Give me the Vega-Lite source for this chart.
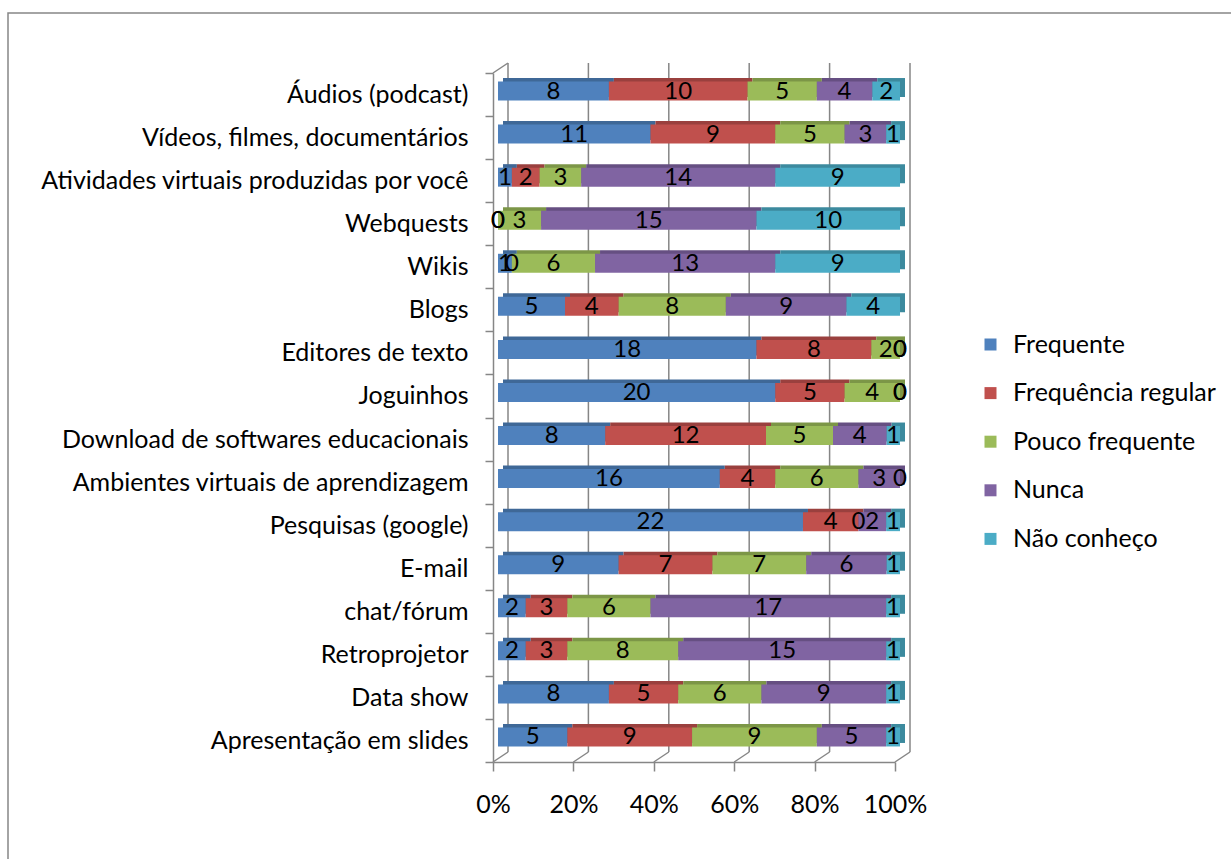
{
  "$schema": "https://vega.github.io/schema/vega-lite/v6.json",
  "width": 1226,
  "height": 850,
  "autosize": {"type": "none"},
  "padding": {"left": 8, "top": 13, "right": -3, "bottom": -4},
  "background": "white",
  "config": {
    "view": {"stroke": "#868686", "strokeWidth": 1.5},
    "font": "Lato",
    "axis": {"labelFont": "Lato", "labelColor": "#000000", "labelFontSize": 25, "domainColor": "#868686", "tickColor": "#868686", "domainWidth": 1.5, "tickWidth": 1.5, "title": null, "grid": false},
    "legend": {"labelFont": "Lato", "labelColor": "#000000", "labelFontSize": 25, "labelLimit": 400}
  },
  "datasets": {
    "respostas": [
      {"item": "Áudios (podcast)", "cat": "Frequente", "o": 1, "n": 8},
      {"item": "Áudios (podcast)", "cat": "Frequência regular", "o": 2, "n": 10},
      {"item": "Áudios (podcast)", "cat": "Pouco frequente", "o": 3, "n": 5},
      {"item": "Áudios (podcast)", "cat": "Nunca", "o": 4, "n": 4},
      {"item": "Áudios (podcast)", "cat": "Não conheço", "o": 5, "n": 2},
      {"item": "Vídeos, filmes, documentários", "cat": "Frequente", "o": 1, "n": 11},
      {"item": "Vídeos, filmes, documentários", "cat": "Frequência regular", "o": 2, "n": 9},
      {"item": "Vídeos, filmes, documentários", "cat": "Pouco frequente", "o": 3, "n": 5},
      {"item": "Vídeos, filmes, documentários", "cat": "Nunca", "o": 4, "n": 3},
      {"item": "Vídeos, filmes, documentários", "cat": "Não conheço", "o": 5, "n": 1},
      {"item": "Atividades virtuais produzidas por você", "cat": "Frequente", "o": 1, "n": 1},
      {"item": "Atividades virtuais produzidas por você", "cat": "Frequência regular", "o": 2, "n": 2},
      {"item": "Atividades virtuais produzidas por você", "cat": "Pouco frequente", "o": 3, "n": 3},
      {"item": "Atividades virtuais produzidas por você", "cat": "Nunca", "o": 4, "n": 14},
      {"item": "Atividades virtuais produzidas por você", "cat": "Não conheço", "o": 5, "n": 9},
      {"item": "Webquests", "cat": "Frequente", "o": 1, "n": 0},
      {"item": "Webquests", "cat": "Frequência regular", "o": 2, "n": 0},
      {"item": "Webquests", "cat": "Pouco frequente", "o": 3, "n": 3},
      {"item": "Webquests", "cat": "Nunca", "o": 4, "n": 15},
      {"item": "Webquests", "cat": "Não conheço", "o": 5, "n": 10},
      {"item": "Wikis", "cat": "Frequente", "o": 1, "n": 1},
      {"item": "Wikis", "cat": "Frequência regular", "o": 2, "n": 0},
      {"item": "Wikis", "cat": "Pouco frequente", "o": 3, "n": 6},
      {"item": "Wikis", "cat": "Nunca", "o": 4, "n": 13},
      {"item": "Wikis", "cat": "Não conheço", "o": 5, "n": 9},
      {"item": "Blogs", "cat": "Frequente", "o": 1, "n": 5},
      {"item": "Blogs", "cat": "Frequência regular", "o": 2, "n": 4},
      {"item": "Blogs", "cat": "Pouco frequente", "o": 3, "n": 8},
      {"item": "Blogs", "cat": "Nunca", "o": 4, "n": 9},
      {"item": "Blogs", "cat": "Não conheço", "o": 5, "n": 4},
      {"item": "Editores de texto", "cat": "Frequente", "o": 1, "n": 18},
      {"item": "Editores de texto", "cat": "Frequência regular", "o": 2, "n": 8},
      {"item": "Editores de texto", "cat": "Pouco frequente", "o": 3, "n": 2},
      {"item": "Editores de texto", "cat": "Nunca", "o": 4, "n": 0},
      {"item": "Editores de texto", "cat": "Não conheço", "o": 5, "n": 0},
      {"item": "Joguinhos", "cat": "Frequente", "o": 1, "n": 20},
      {"item": "Joguinhos", "cat": "Frequência regular", "o": 2, "n": 5},
      {"item": "Joguinhos", "cat": "Pouco frequente", "o": 3, "n": 4},
      {"item": "Joguinhos", "cat": "Nunca", "o": 4, "n": 0},
      {"item": "Joguinhos", "cat": "Não conheço", "o": 5, "n": 0},
      {"item": "Download de softwares educacionais", "cat": "Frequente", "o": 1, "n": 8},
      {"item": "Download de softwares educacionais", "cat": "Frequência regular", "o": 2, "n": 12},
      {"item": "Download de softwares educacionais", "cat": "Pouco frequente", "o": 3, "n": 5},
      {"item": "Download de softwares educacionais", "cat": "Nunca", "o": 4, "n": 4},
      {"item": "Download de softwares educacionais", "cat": "Não conheço", "o": 5, "n": 1},
      {"item": "Ambientes virtuais de aprendizagem", "cat": "Frequente", "o": 1, "n": 16},
      {"item": "Ambientes virtuais de aprendizagem", "cat": "Frequência regular", "o": 2, "n": 4},
      {"item": "Ambientes virtuais de aprendizagem", "cat": "Pouco frequente", "o": 3, "n": 6},
      {"item": "Ambientes virtuais de aprendizagem", "cat": "Nunca", "o": 4, "n": 3},
      {"item": "Ambientes virtuais de aprendizagem", "cat": "Não conheço", "o": 5, "n": 0},
      {"item": "Pesquisas (google)", "cat": "Frequente", "o": 1, "n": 22},
      {"item": "Pesquisas (google)", "cat": "Frequência regular", "o": 2, "n": 4},
      {"item": "Pesquisas (google)", "cat": "Pouco frequente", "o": 3, "n": 0},
      {"item": "Pesquisas (google)", "cat": "Nunca", "o": 4, "n": 2},
      {"item": "Pesquisas (google)", "cat": "Não conheço", "o": 5, "n": 1},
      {"item": "E-mail", "cat": "Frequente", "o": 1, "n": 9},
      {"item": "E-mail", "cat": "Frequência regular", "o": 2, "n": 7},
      {"item": "E-mail", "cat": "Pouco frequente", "o": 3, "n": 7},
      {"item": "E-mail", "cat": "Nunca", "o": 4, "n": 6},
      {"item": "E-mail", "cat": "Não conheço", "o": 5, "n": 1},
      {"item": "chat/fórum", "cat": "Frequente", "o": 1, "n": 2},
      {"item": "chat/fórum", "cat": "Frequência regular", "o": 2, "n": 3},
      {"item": "chat/fórum", "cat": "Pouco frequente", "o": 3, "n": 6},
      {"item": "chat/fórum", "cat": "Nunca", "o": 4, "n": 17},
      {"item": "chat/fórum", "cat": "Não conheço", "o": 5, "n": 1},
      {"item": "Retroprojetor", "cat": "Frequente", "o": 1, "n": 2},
      {"item": "Retroprojetor", "cat": "Frequência regular", "o": 2, "n": 3},
      {"item": "Retroprojetor", "cat": "Pouco frequente", "o": 3, "n": 8},
      {"item": "Retroprojetor", "cat": "Nunca", "o": 4, "n": 15},
      {"item": "Retroprojetor", "cat": "Não conheço", "o": 5, "n": 1},
      {"item": "Data show", "cat": "Frequente", "o": 1, "n": 8},
      {"item": "Data show", "cat": "Frequência regular", "o": 2, "n": 5},
      {"item": "Data show", "cat": "Pouco frequente", "o": 3, "n": 6},
      {"item": "Data show", "cat": "Nunca", "o": 4, "n": 9},
      {"item": "Data show", "cat": "Não conheço", "o": 5, "n": 1},
      {"item": "Apresentação em slides", "cat": "Frequente", "o": 1, "n": 5},
      {"item": "Apresentação em slides", "cat": "Frequência regular", "o": 2, "n": 9},
      {"item": "Apresentação em slides", "cat": "Pouco frequente", "o": 3, "n": 9},
      {"item": "Apresentação em slides", "cat": "Nunca", "o": 4, "n": 5},
      {"item": "Apresentação em slides", "cat": "Não conheço", "o": 5, "n": 1}
    ],
    "grade": [{"v": 0}, {"v": 0.2}, {"v": 0.4}, {"v": 0.6}, {"v": 0.8}, {"v": 1}]
  },
  "resolve": {"scale": {"color": "independent"}},
  "layer": [
    {
      "data": {"name": "grade"},
      "mark": {"type": "rule", "color": "#868686", "strokeWidth": 1.5, "xOffset": 15, "yOffset": -10, "y2Offset": -10},
      "encoding": {
        "x": {
          "field": "v", "type": "quantitative",
          "scale": {"domain": [0, 1], "range": [485, 887]},
          "axis": {"orient": "bottom", "offset": -101, "values": [0, 0.2, 0.4, 0.6, 0.8, 1], "format": ".0%", "tickSize": 9, "labelPadding": 21, "labelFlush": false}
        },
        "y": {
          "datum": "Áudios (podcast)", "type": "nominal", "bandPosition": 0,
          "scale": {"domain": ["Áudios (podcast)", "Vídeos, filmes, documentários", "Atividades virtuais produzidas por você", "Webquests", "Wikis", "Blogs", "Editores de texto", "Joguinhos", "Download de softwares educacionais", "Ambientes virtuais de aprendizagem", "Pesquisas (google)", "E-mail", "chat/fórum", "Retroprojetor", "Data show", "Apresentação em slides"], "range": [60, 749], "paddingInner": 0, "paddingOuter": 0},
          "axis": {"orient": "left", "offset": -485, "tickBand": "extent", "tickSize": 8, "labelPadding": 17, "labelLimit": 600}
        },
        "y2": {"datum": "Apresentação em slides", "bandPosition": 1}
      }
    },
    {
      "data": {"name": "grade"},
      "mark": {"type": "rule", "color": "#868686", "strokeWidth": 1.5, "x2Offset": 15, "y2Offset": -10},
      "encoding": {
        "x": {"field": "v", "type": "quantitative"},
        "x2": {"field": "v"},
        "y": {"datum": "Apresentação em slides", "type": "nominal", "bandPosition": 1},
        "y2": {"datum": "Apresentação em slides", "bandPosition": 1}
      }
    },
    {
      "data": {"name": "grade"},
      "transform": [{"filter": "datum.v == 0"}],
      "mark": {"type": "rule", "color": "#868686", "strokeWidth": 1.5, "x2Offset": 15, "y2Offset": -10},
      "encoding": {
        "x": {"field": "v", "type": "quantitative"},
        "x2": {"field": "v"},
        "y": {"datum": "Áudios (podcast)", "type": "nominal", "bandPosition": 0},
        "y2": {"datum": "Áudios (podcast)", "bandPosition": 0}
      }
    },
    {
      "data": {"name": "respostas"},
      "mark": {"type": "bar", "size": 19, "xOffset": 10, "x2Offset": 10, "yOffset": -7, "y2Offset": -7},
      "encoding": {
        "x": {"field": "n", "type": "quantitative", "stack": "normalize"},
        "y": {"field": "item", "type": "nominal"},
        "order": {"field": "o"},
        "color": {
          "field": "cat", "type": "nominal", "legend": null,
          "scale": {"domain": ["Frequente", "Frequência regular", "Pouco frequente", "Nunca", "Não conheço"], "range": ["#3F6897", "#9A403E", "#7C9647", "#664F82", "#3C8A9E"]}
        }
      }
    },
    {
      "data": {"name": "respostas"},
      "mark": {"type": "bar", "size": 19, "xOffset": 5, "x2Offset": 5, "yOffset": -3.5, "y2Offset": -3.5},
      "encoding": {
        "x": {"field": "n", "type": "quantitative", "stack": "normalize"},
        "y": {"field": "item", "type": "nominal"},
        "order": {"field": "o"},
        "color": {
          "field": "cat", "type": "nominal",
          "scale": {"domain": ["Frequente", "Frequência regular", "Pouco frequente", "Nunca", "Não conheço"], "range": ["#4F81BD", "#C0504D", "#9BBB59", "#8064A2", "#4BACC6"]},
          "legend": {"orient": "none", "legendX": 970, "legendY": 319, "title": null, "symbolType": "square", "symbolSize": 144, "symbolStrokeWidth": 0, "rowPadding": 22.6, "labelOffset": 10, "padding": 0}
        }
      }
    },
    {
      "data": {"name": "respostas"},
      "mark": {"type": "text", "font": "Lato", "fontSize": 24, "color": "#000000", "baseline": "middle", "align": "center", "xOffset": 5, "yOffset": -3},
      "encoding": {
        "x": {"field": "n", "type": "quantitative", "stack": "normalize", "bandPosition": 0.5},
        "y": {"field": "item", "type": "nominal"},
        "detail": {"field": "cat"},
        "order": {"field": "o"},
        "text": {"field": "n", "type": "quantitative"}
      }
    }
  ]
}
